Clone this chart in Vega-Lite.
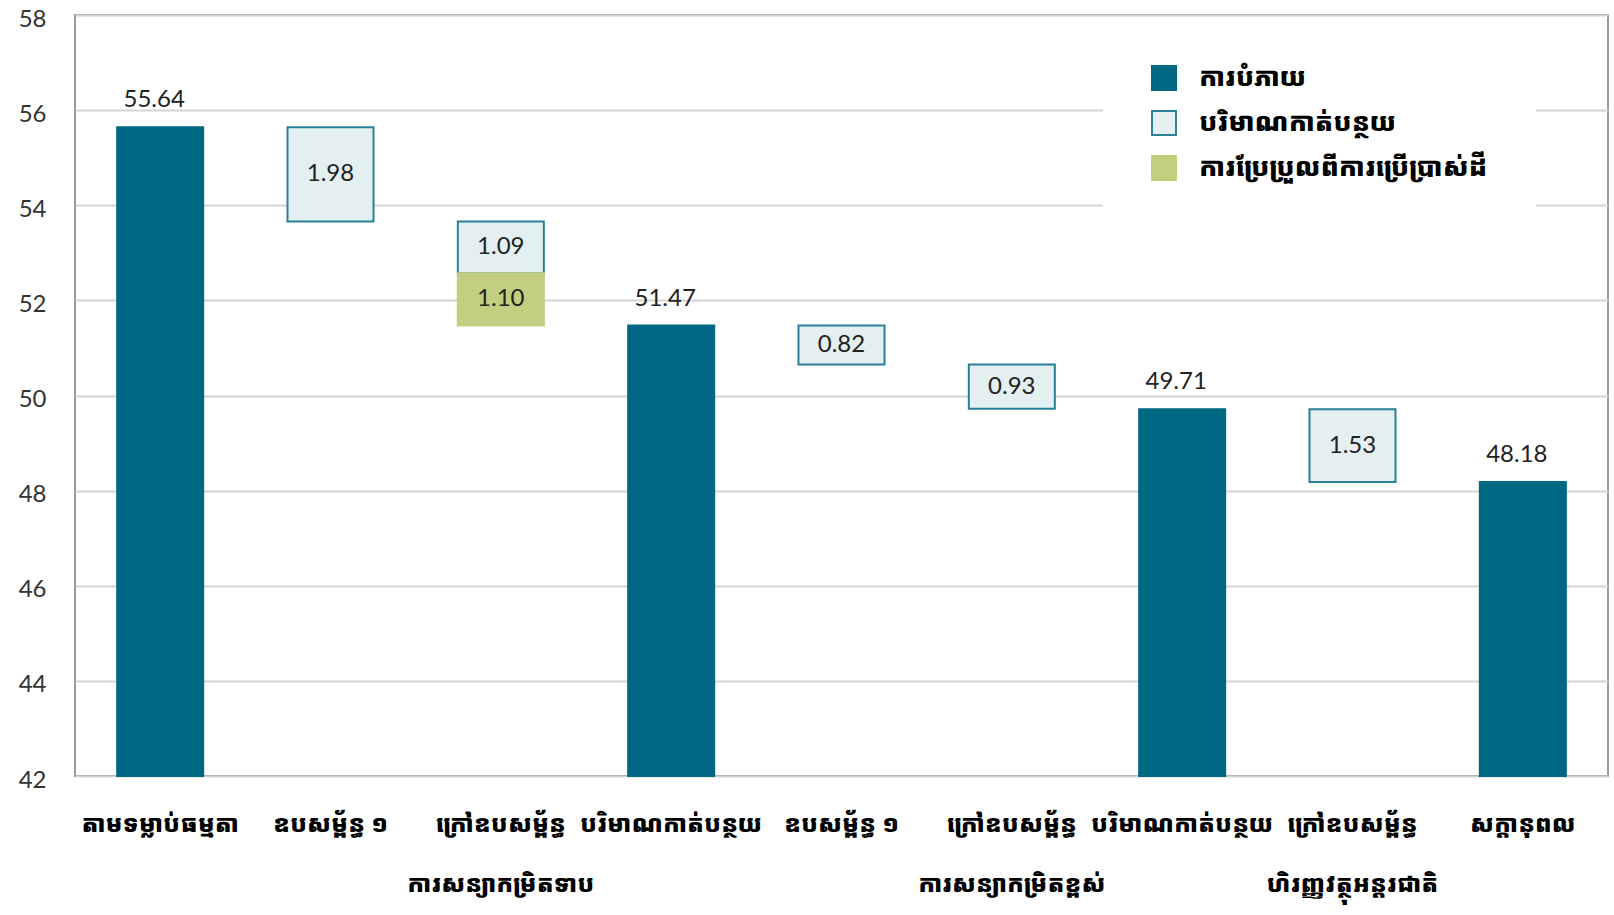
{
  "$schema": "https://vega.github.io/schema/vega-lite/v6.json",
  "width": 1533,
  "height": 761,
  "autosize": "none",
  "padding": {"left": 75, "top": 15, "right": 6, "bottom": 139},
  "background": "white",
  "config": {
    "view": {"stroke": "#9a9a9a", "strokeWidth": 2},
    "font": "Lato"
  },
  "data": {
    "values": [
      {"cat": "1|តាមទម្លាប់ធម្មតា", "type": "ការបំភាយ", "start": 42, "end": 55.64, "label": "55.64"},
      {"cat": "2|ឧបសម្ព័ន្ធ ១", "type": "បរិមាណកាត់បន្ថយ", "start": 55.64, "end": 53.66, "label": "1.98"},
      {"cat": "3|ក្រៅឧបសម្ព័ន្ធ|ការសន្យាកម្រិតទាប", "type": "បរិមាណកាត់បន្ថយ", "start": 53.66, "end": 52.57, "label": "1.09"},
      {"cat": "3|ក្រៅឧបសម្ព័ន្ធ|ការសន្យាកម្រិតទាប", "type": "ការប្រែប្រួលពីការប្រើប្រាស់ដី", "start": 52.57, "end": 51.47, "label": "1.10"},
      {"cat": "4|បរិមាណកាត់បន្ថយ", "type": "ការបំភាយ", "start": 42, "end": 51.47, "label": "51.47"},
      {"cat": "5|ឧបសម្ព័ន្ធ ១", "type": "បរិមាណកាត់បន្ថយ", "start": 51.47, "end": 50.65, "label": "0.82"},
      {"cat": "6|ក្រៅឧបសម្ព័ន្ធ|ការសន្យាកម្រិតខ្ពស់", "type": "បរិមាណកាត់បន្ថយ", "start": 50.65, "end": 49.72, "label": "0.93"},
      {"cat": "7|បរិមាណកាត់បន្ថយ", "type": "ការបំភាយ", "start": 42, "end": 49.71, "label": "49.71"},
      {"cat": "8|ក្រៅឧបសម្ព័ន្ធ|ហិរញ្ញវត្ថុអន្តរជាតិ", "type": "បរិមាណកាត់បន្ថយ", "start": 49.71, "end": 48.18, "label": "1.53"},
      {"cat": "9|សក្តានុពល", "type": "ការបំភាយ", "start": 42, "end": 48.18, "label": "48.18"}
    ]
  },
  "encoding": {
    "x": {
      "field": "cat",
      "type": "nominal",
      "sort": null,
      "scale": {"paddingInner": 0.495, "paddingOuter": 0.2475},
      "axis": {
        "title": null,
        "labelAngle": 0,
        "labelExpr": "slice(split(datum.label, '|'), 1)",
        "labelFont": "Noto Sans Khmer",
        "labelFontWeight": 900,
        "labelFontSize": 24,
        "labelColor": "#000000",
        "labelLineHeight": 60,
        "labelPadding": 48,
        "labelBaseline": "middle",
        "labelLimit": 0,
        "labelOverlap": false,
        "labelBound": false,
        "domain": false,
        "ticks": false,
        "grid": false
      }
    }
  },
  "layer": [
    {
      "mark": {"type": "bar", "strokeWidth": 2},
      "encoding": {
        "y": {
          "field": "start",
          "type": "quantitative",
          "scale": {"domain": [42, 58], "nice": false, "zero": false},
          "axis": {
            "title": null,
            "values": [42, 44, 46, 48, 50, 52, 54, 56, 58],
            "labelFont": "Lato",
            "labelFontSize": 24,
            "labelColor": "#333333",
            "labelPadding": 29,
            "labelAlign": "right",
            "labelOffset": 4,
            "ticks": false,
            "domain": false,
            "gridColor": "#d4d4d4",
            "gridWidth": 2
          }
        },
        "y2": {"field": "end"},
        "fill": {
          "field": "type",
          "type": "nominal",
          "scale": {
            "domain": ["ការបំភាយ", "បរិមាណកាត់បន្ថយ", "ការប្រែប្រួលពីការប្រើប្រាស់ដី"],
            "range": ["#006882", "#e4eff1", "#c3cf80"]
          },
          "legend": {
            "title": null,
            "orient": "none",
            "legendX": 1028,
            "legendY": 2,
            "padding": 48,
            "fillColor": "white",
            "symbolType": "square",
            "symbolSize": 576,
            "symbolStrokeWidth": 2,
            "rowPadding": 13,
            "labelFont": "Noto Sans Khmer",
            "labelFontWeight": 900,
            "labelFontSize": 26,
            "labelColor": "#000000",
            "labelOffset": 22,
            "labelLimit": 400
          }
        },
        "stroke": {
          "field": "type",
          "type": "nominal",
          "scale": {
            "domain": ["ការបំភាយ", "បរិមាណកាត់បន្ថយ", "ការប្រែប្រួលពីការប្រើប្រាស់ដី"],
            "range": ["#006882", "#2a8098", "#c3cf80"]
          },
          "legend": null
        }
      }
    },
    {
      "transform": [{"filter": "datum.start == 42"}],
      "mark": {"type": "text", "baseline": "alphabetic", "dy": -20, "dx": -6, "fontSize": 24, "color": "#222222", "font": "Lato"},
      "encoding": {
        "y": {"field": "end", "type": "quantitative"},
        "text": {"field": "label"}
      }
    },
    {
      "transform": [
        {"filter": "datum.start != 42"},
        {"calculate": "(datum.start + datum.end) / 2", "as": "mid"}
      ],
      "mark": {"type": "text", "baseline": "middle", "fontSize": 24, "color": "#222222", "font": "Lato"},
      "encoding": {
        "y": {"field": "mid", "type": "quantitative"},
        "text": {"field": "label"}
      }
    }
  ]
}
